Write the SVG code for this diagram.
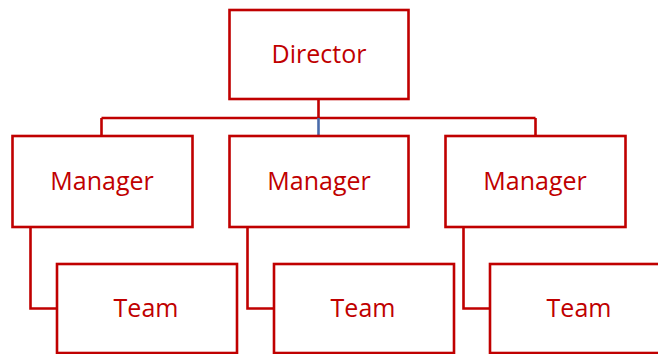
<svg xmlns="http://www.w3.org/2000/svg" width="658" height="354" viewBox="0 0 658 354">
<style>
.box{fill:#fff;stroke:#C00000;stroke-width:2.6}
.lbl{font-family:"Open Sans","Noto Sans",sans-serif;font-size:25px;fill:#C00000;text-anchor:middle}
.ln{fill:none;stroke:#C00000;stroke-width:2.6}
</style>
<rect width="658" height="354" fill="#fff"/>
<g id="connectors">
<path class="ln" d="M318.5 99 V118 M101.5 118 H535.5 M101.5 118 V136 M535.5 118 V136"/>
<path d="M318.5 118 V136" fill="none" stroke="#4A6BAA" stroke-width="2.6"/>
<path class="ln" d="M30.5 227 V308.5 H57 M247.5 227 V308.5 H274 M463.5 227 V308.5 H490"/>
</g>
<g id="director"><rect class="box" x="229.5" y="10" width="179" height="89"/><text class="lbl" x="319" y="63">Director</text></g>
<g id="manager1"><rect class="box" x="12.5" y="136" width="180" height="91"/><text class="lbl" x="102" y="190">Manager</text></g>
<g id="manager2"><rect class="box" x="229.5" y="136" width="179" height="91"/><text class="lbl" x="319" y="190">Manager</text></g>
<g id="manager3"><rect class="box" x="445.5" y="136" width="180" height="91"/><text class="lbl" x="535" y="190">Manager</text></g>
<g id="team1"><rect class="box" x="57" y="264" width="180" height="89"/><text class="lbl" x="146" y="317">Team</text></g>
<g id="team2"><rect class="box" x="274" y="264" width="180" height="89"/><text class="lbl" x="363" y="317">Team</text></g>
<g id="team3"><rect class="box" x="490" y="264" width="180" height="89"/><text class="lbl" x="579" y="317">Team</text></g>
</svg>
